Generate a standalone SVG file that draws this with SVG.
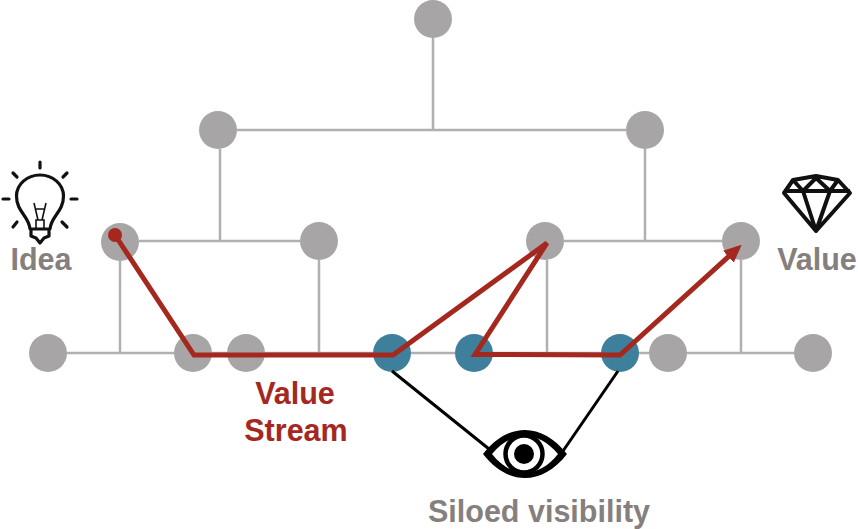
<svg xmlns="http://www.w3.org/2000/svg" width="858" height="529" viewBox="0 0 858 529">
<style>
.g{fill:#a7a5a6}.b{fill:#3e7f9b}
.l{fill:none;stroke:#b1afb0;stroke-width:2.5}
.r{fill:none;stroke:#a5281f;stroke-width:5;stroke-linejoin:miter;stroke-miterlimit:4}
.k{fill:none;stroke:#000;stroke-width:3}
.i{fill:none;stroke:#111;stroke-width:3.2;stroke-linecap:round;stroke-linejoin:round}
text{font-family:"Liberation Sans",Arial,sans-serif;font-weight:700;font-size:30.5px;text-anchor:middle}
.t{fill:#857f7e}.v{fill:#a5281f}
</style>
<defs><marker id="ah" markerUnits="userSpaceOnUse" markerWidth="20" markerHeight="18" refX="13" refY="8" orient="auto"><path d="M0 0L18 8L0 16Z" fill="#a5281f"/></marker></defs>
<g id="n1"><circle class="g" cx="433" cy="19" r="19"/></g>
<g id="n2"><circle class="g" cx="218" cy="130" r="19"/></g>
<g id="n3"><circle class="g" cx="645" cy="130" r="19"/></g>
<g id="n4"><circle class="g" cx="120" cy="242" r="19"/></g>
<g id="n5"><circle class="g" cx="319" cy="241" r="19"/></g>
<g id="n6"><circle class="g" cx="545" cy="241" r="19"/></g>
<g id="n7"><circle class="g" cx="741" cy="241" r="19"/></g>
<g id="n8"><circle class="g" cx="48" cy="353" r="19"/></g>
<g id="n9"><circle class="g" cx="193" cy="353" r="19"/></g>
<g id="n10"><circle class="g" cx="246" cy="353" r="19"/></g>
<g id="n11"><circle class="b" cx="392" cy="353" r="19"/></g>
<g id="n12"><circle class="b" cx="474" cy="353" r="19"/></g>
<g id="n13"><circle class="b" cx="620" cy="353" r="19"/></g>
<g id="n14"><circle class="g" cx="668" cy="353" r="19"/></g>
<g id="n15"><circle class="g" cx="813" cy="353" r="19"/></g>
<g id="connectors">
<path class="l" d="M433 38V130M237 130H626M220 149V241M645 149V241M139 241H300M319 260V353M120 261V353M564 241H722M547 260V353M741 260V353M67 353H174M212 353H227M265 353H373M411 353H455M493 353H601M639 353H649M687 353H794"/>
<path class="k" d="M392 371L489 449M618 371L563 451"/>
<path class="r" d="M115 235L194 355L393 355L547 243L475 354.500L620 355L738 248" marker-end="url(#ah)"/>
<circle cx="115" cy="235" r="7" fill="#a5281f"/>
</g>
<g id="idea">
<path class="i" d="M30 229C29 216 16.500 212 16.500 196A23.500 21 0 0 1 63.500 196C63.500 212 51 216 50 229ZM31 229V236L36 238L40 243L44 238L49 236V229"/>
<path d="M36 228V220H44V228M38 220L34 203M42 220L46 203M35 209H45" fill="none" stroke="#111" stroke-width="1.600"/>
<path class="i" d="M40 162V168M13 173L17 177M67 173L63 177M3 199H9M71 199H77M13 227L17 222M67 227L62 222"/>
<text class="t" x="41" y="270">Idea</text>
</g>
<g id="value">
<path d="M793 180L816 176L838 180L850 193L816 231L784 193ZM784 191H850M793 180L803 191L816 178L830 191L838 180M803 191L816 231L830 191" fill="none" stroke="#111" stroke-width="4" stroke-linejoin="round"/>
<text class="t" x="817" y="270">Value</text>
</g>
<g id="eye">
<path d="M483 454C508 422 542 422 567 454C542 486 508 486 483 454ZM492 454C512 479 538 479 558 454C538 430 512 430 492 454Z" fill="#000" fill-rule="evenodd"/>
<circle cx="524" cy="454" r="18.500" fill="#fff" stroke="#000" stroke-width="4.500"/>
<circle cx="524" cy="454" r="10" fill="#000"/>
</g>
<g id="labels">
<text class="v" x="295" y="404">Value</text>
<text class="v" x="296" y="441">Stream</text>
<text class="t" x="539" y="522">Siloed visibility</text>
</g>
</svg>
